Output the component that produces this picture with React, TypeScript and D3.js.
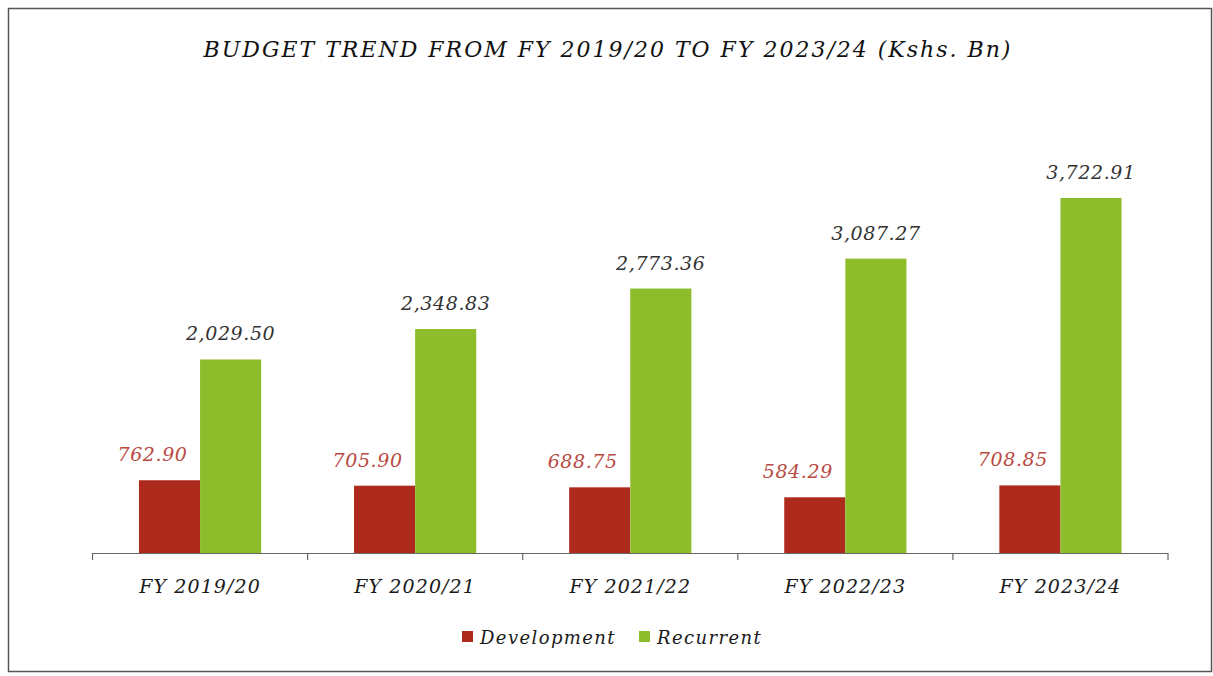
import React from "react";
import * as d3 from "d3";

const categories = ["FY 2019/20", "FY 2020/21", "FY 2021/22", "FY 2022/23", "FY 2023/24"];
const development = [762.9, 705.9, 688.75, 584.29, 708.85];
const recurrent = [2029.5, 2348.83, 2773.36, 3087.27, 3722.91];
const seriesNames = ["Development", "Recurrent"];
const seriesColors = ["#ae2a1c", "#8dbd2a"];
const labelColors = ["#b84a42", "#333333"];
const title = "BUDGET TREND FROM FY 2019/20 TO FY 2023/24 (Kshs. Bn)";

const W = 1213;
const H = 676;
const FONT = "'DejaVu Serif', 'Liberation Serif', serif";

export default function App() {
  const x0 = d3.scaleBand<string>().domain(categories).range([92.5, 1168]).paddingInner(0).paddingOuter(0);
  const x1 = d3.scaleBand<string>().domain(seriesNames).range([0, x0.bandwidth()]).paddingInner(0).paddingOuter(0.76);
  const y = d3.scaleLinear().domain([0, 3722.91]).range([553, 198]);
  const fmt = d3.format(",.2f");
  const series = [development, recurrent];

  return (
    <svg width={W} height={H} style={{ position: "absolute", left: 0, top: 0, display: "block" }}>
      <rect x={0} y={0} width={W} height={H} fill="#ffffff" />
      <rect x={8.5} y={8.5} width={1203} height={663} fill="none" stroke="#555" strokeWidth={1.5} />
      <text x={608} y={57} textAnchor="middle" fontFamily={FONT} fontStyle="italic" fontSize={22} letterSpacing={2} fill="#111">
        {title}
      </text>
      {categories.map((c, i) => (
        <g key={c} transform={`translate(${x0(c)},0)`}>
          {series.map((s, j) => {
            const name = seriesNames[j];
            const bx = x1(name)!;
            const by = y(s[i]);
            return (
              <g key={name}>
                <rect x={bx} y={by} width={x1.bandwidth()} height={y(0) - by} fill={seriesColors[j]} />
                <text
                  x={bx + x1.bandwidth() / 2 + (j === 0 ? -17 : 0)}
                  y={by - 19}
                  textAnchor="middle"
                  fontFamily={FONT}
                  fontStyle="italic"
                  fontSize={19}
                  letterSpacing={0.6}
                  fill={labelColors[j]}
                >
                  {fmt(s[i])}
                </text>
              </g>
            );
          })}
          <text x={x0.bandwidth() / 2} y={593} textAnchor="middle" fontFamily={FONT} fontStyle="italic" fontSize={19} letterSpacing={1.1} fill="#1a1a1a">
            {c}
          </text>
        </g>
      ))}
      <line x1={92.5} x2={1168} y1={553.5} y2={553.5} stroke="#666" strokeWidth={1.2} />
      {d3.range(categories.length + 1).map((k) => {
        const tx = 92.5 + k * x0.bandwidth();
        return <line key={k} x1={tx} x2={tx} y1={553} y2={560} stroke="#666" strokeWidth={1.2} />;
      })}
      <g>
        <rect x={462} y={631} width={11} height={11} fill={seriesColors[0]} />
        <text x={480} y={644} fontFamily={FONT} fontStyle="italic" fontSize={18} letterSpacing={1.4} fill="#1a1a1a">
          {seriesNames[0]}
        </text>
        <rect x={639} y={631} width={11} height={11} fill={seriesColors[1]} />
        <text x={657} y={644} fontFamily={FONT} fontStyle="italic" fontSize={18} letterSpacing={1.4} fill="#1a1a1a">
          {seriesNames[1]}
        </text>
      </g>
    </svg>
  );
}
